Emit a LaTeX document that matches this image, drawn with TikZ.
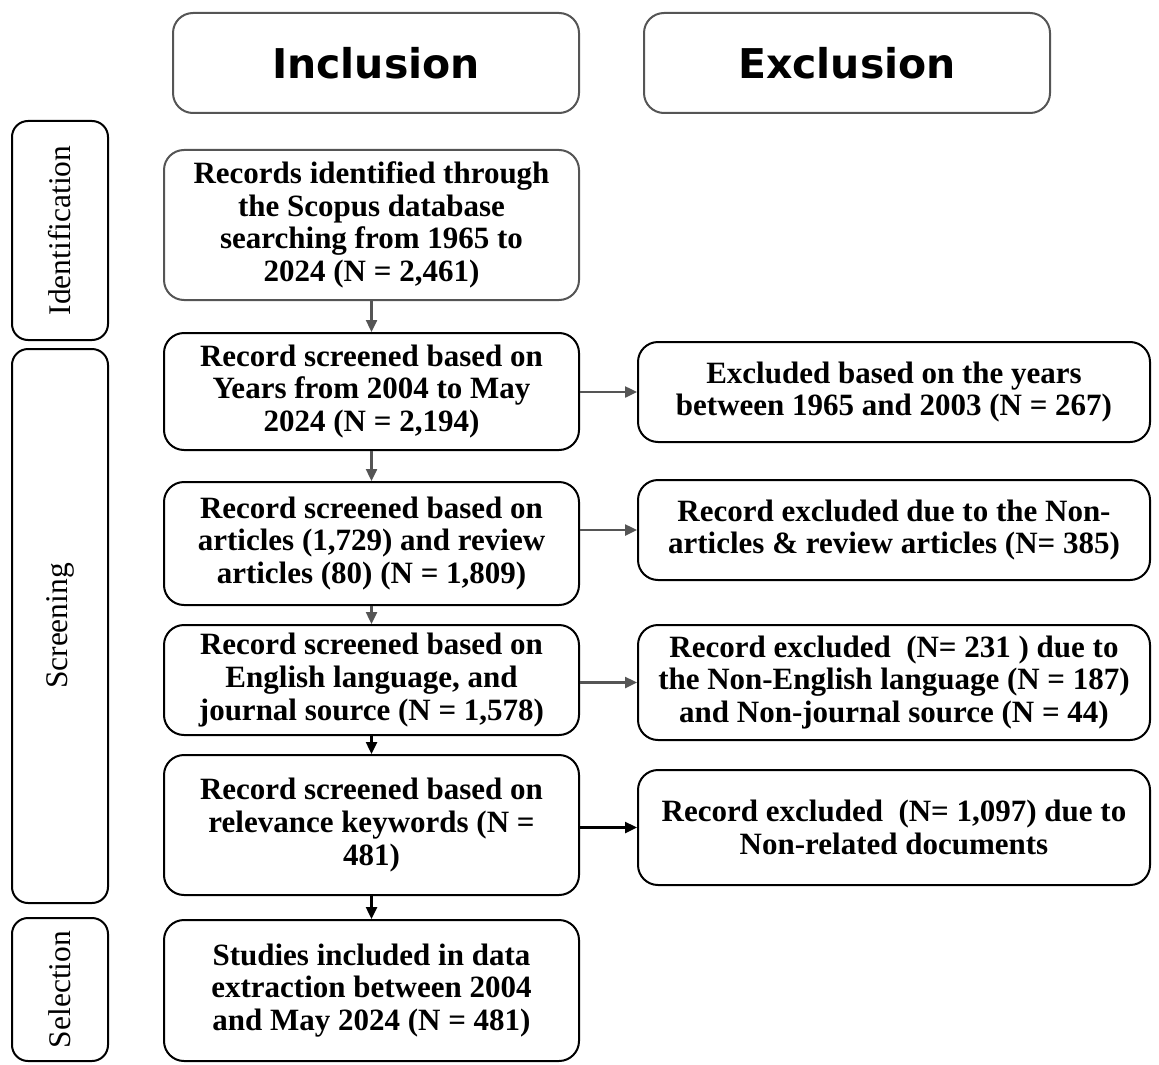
\documentclass[tikz,border=0pt]{standalone}
\usepackage{fontspec}
\setmainfont{Liberation Serif}
\newfontfamily\hdrfont{DejaVu Sans}
\usetikzlibrary{arrows.meta}
\definecolor{lgray}{RGB}{85,85,85}
\begin{document}
\begin{tikzpicture}[x=0.5pt,y=-0.5pt,
  box/.style={draw, line width=1pt, rounded corners=10pt, align=center,
    font=\fontsize{15.5}{16.3}\selectfont\bfseries, inner sep=0pt},
  mainbox/.style={box, minimum width=207.5pt},
  exbox/.style={box, minimum width=256pt},
  hdrbox/.style={draw=lgray, line width=1pt, rounded corners=10pt, minimum width=203pt,
    minimum height=50pt, font=\hdrfont\bfseries\fontsize{20.5}{22}\selectfont},
  sidebox/.style={draw, line width=1pt, rounded corners=8pt, rotate=90, minimum height=48pt,
    font=\fontsize{15.75}{17}\selectfont, inner sep=0pt},
  arr/.style={line width=1.2pt, -{Triangle[length=6pt,width=5.5pt]}}]
\useasboundingbox (0,0) rectangle (1159,1064);

% headers
\node[hdrbox] (inc) at (376,63) {Inclusion};
\node[hdrbox] (exc) at (847,63) {Exclusion};

% phase boxes
\node[sidebox, minimum width=109.5pt] (ident) at (60,230.5) {Identification};
\node[sidebox, minimum width=277pt] (screen) at (60,626) {Screening};
\node[sidebox, minimum width=71.5pt] (select) at (60,989.5) {Selection};

% main column
\node[mainbox, draw=lgray, minimum height=75pt] (b1) at (371.5,225)
  {Records identified through\\the Scopus database\\searching from 1965 to\\2024 (N = 2,461)};
\node[mainbox, minimum height=58.5pt] (b2) at (371.5,391.5)
  {Record screened based on\\Years from 2004 to May\\2024 (N = 2,194)};
\node[mainbox, minimum height=61.5pt] (b3) at (371.5,543.5)
  {Record screened based on\\articles (1,729) and review\\articles (80) (N = 1,809)};
\node[mainbox, minimum height=55pt] (b4) at (371.5,680)
  {Record screened based on\\English language, and\\journal source (N = 1,578)};
\node[mainbox, minimum height=70pt] (b5) at (371.5,825)
  {Record screened based on\\relevance keywords (N =\\481)};
\node[mainbox, minimum height=70.5pt] (b6) at (371.5,990.5)
  {Studies included in data\\extraction between 2004\\and May 2024 (N = 481)};

% exclusion column
\node[exbox, minimum height=50pt] (r1) at (894,392)
  {Excluded based on the years\\between 1965 and 2003 (N = 267)};
\node[exbox, minimum height=50pt] (r2) at (894,530)
  {Record excluded due to the Non-\\articles \& review articles (N= 385)};
\node[exbox, minimum height=57.5pt] (r3) at (894,682.5)
  {Record excluded~ (N= 231 ) due to\\the Non-English language (N = 187)\\and Non-journal source (N = 44)};
\node[exbox, minimum height=57.5pt] (r4) at (894,827.5)
  {Record excluded~ (N= 1,097) due to\\Non-related documents};

% vertical arrows
\draw[arr, lgray] (b1.south) -- (b2.north);
\draw[arr, lgray] (b2.south) -- (b3.north);
\draw[arr, lgray] (b3.south) -- (b4.north);
\draw[arr] (b4.south) -- (b5.north);
\draw[arr] (b5.south) -- (b6.north);

% horizontal arrows
\draw[arr, lgray] (b2.east |- r1.west) -- (r1.west);
\draw[arr, lgray] (b3.east |- r2.west) -- (r2.west);
\draw[arr, lgray] (b4.east |- r3.west) -- (r3.west);
\draw[arr] (b5.east |- r4.west) -- (r4.west);
\end{tikzpicture}
\end{document}
